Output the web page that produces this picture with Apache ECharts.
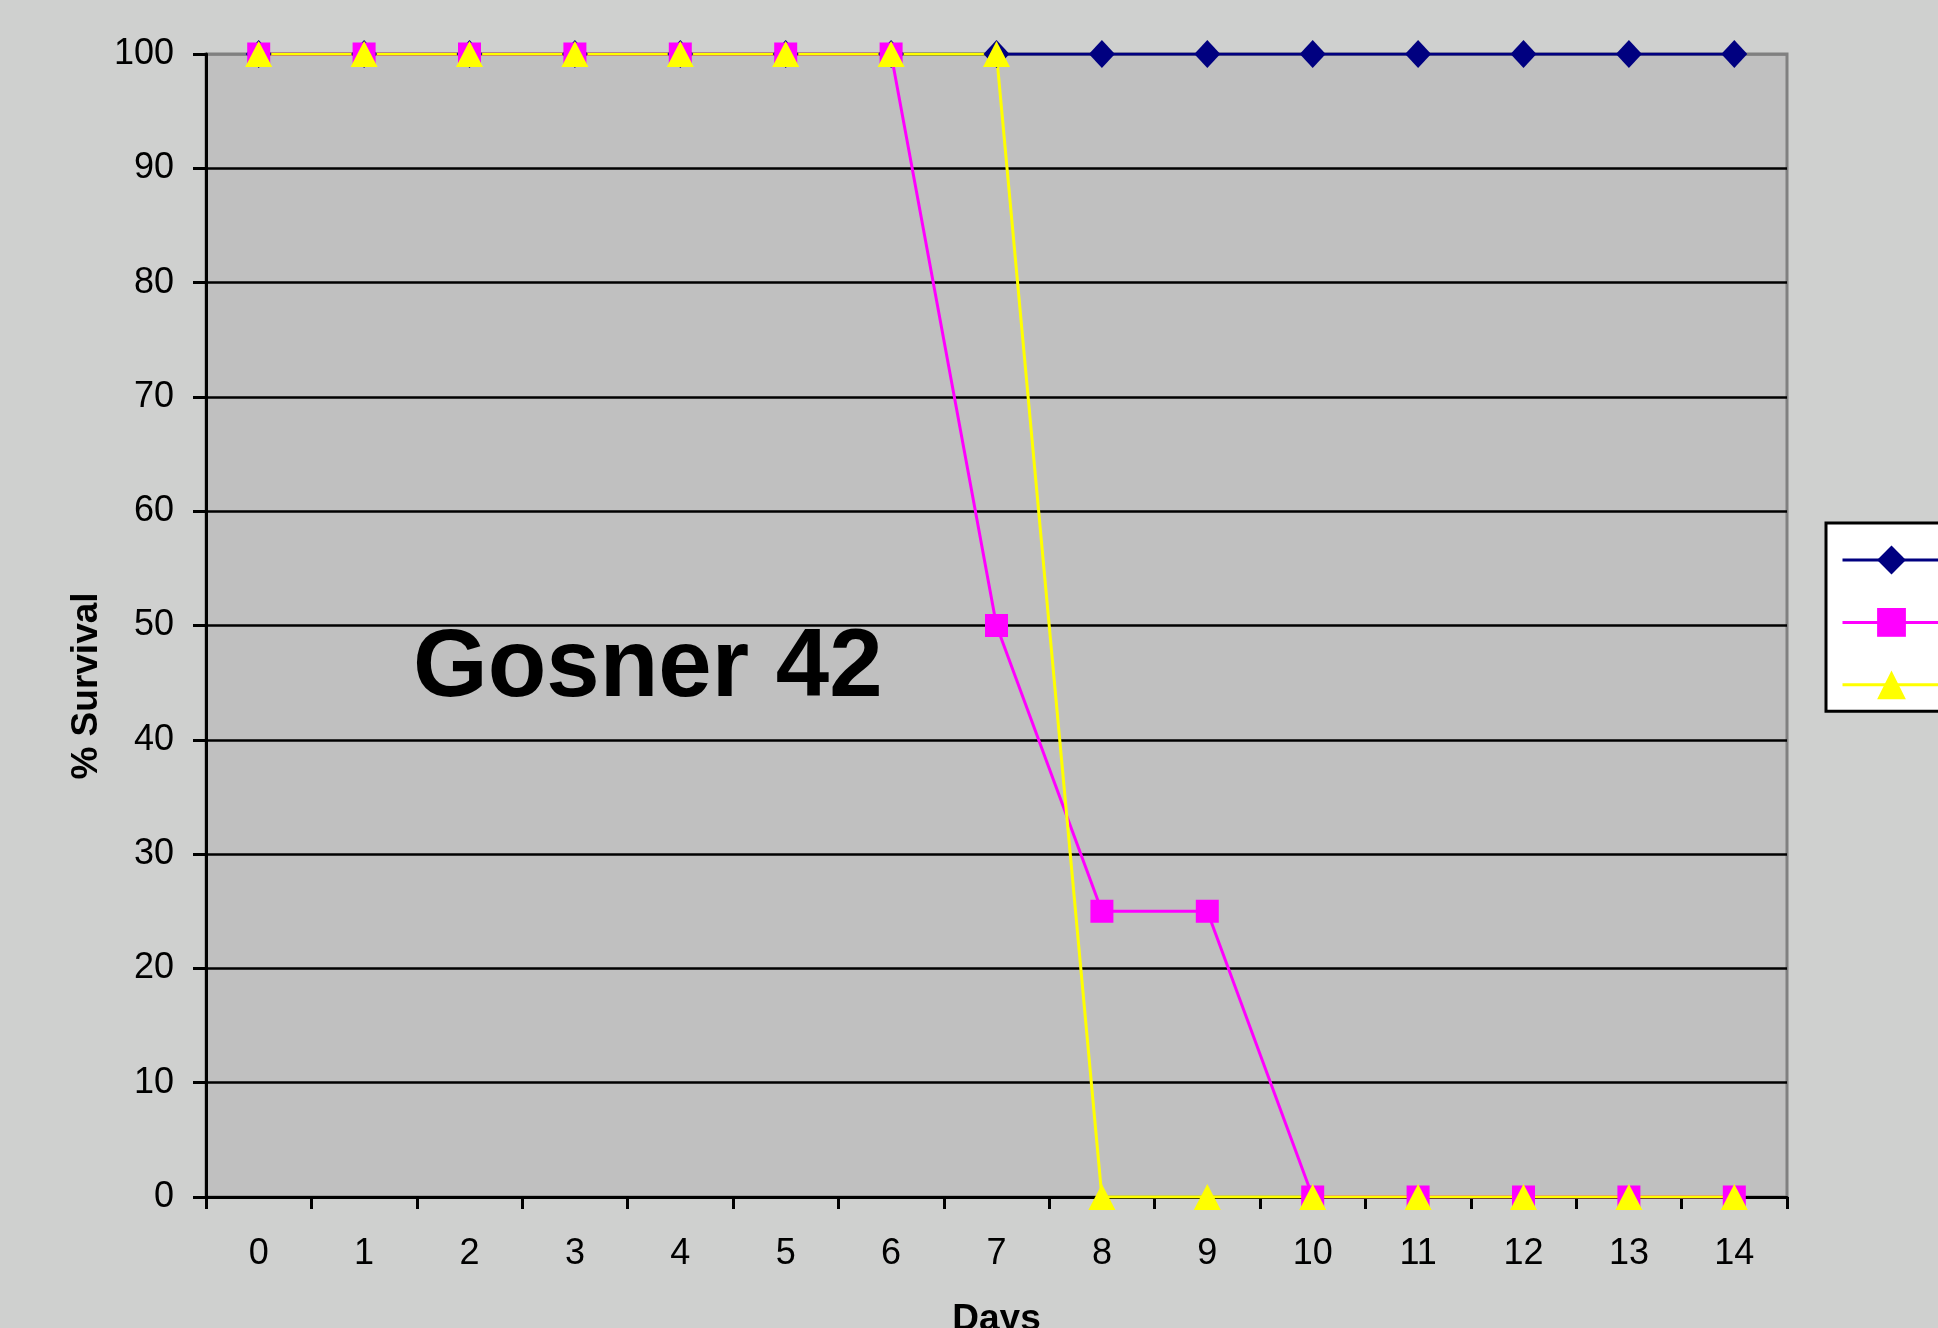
<!DOCTYPE html>
<html>
<head>
<meta charset="utf-8">
<title>Gosner 42</title>
<script src="https://cdn.jsdelivr.net/npm/echarts@6/dist/echarts.min.js"></script>
<style>
  html, body { margin: 0; padding: 0; background: #CFD0CF; }
  #chart { width: 1938px; height: 1328px; }
</style>
</head>
<body>
<div id="chart"></div>
<script>
// days on the x axis
const days = ['0', '1', '2', '3', '4', '5', '6', '7', '8', '9', '10', '11', '12', '13', '14']
// % survival per series
const seriesBlue = [100, 100, 100, 100, 100, 100, 100, 100, 100, 100, 100, 100, 100, 100, 100]
const seriesPink = [100, 100, 100, 100, 100, 100, 100, 50, 25, 25, 0, 0, 0, 0, 0]
const seriesYellow = [100, 100, 100, 100, 100, 100, 100, 100, 0, 0, 0, 0, 0, 0, 0]
// y ticks
const yMin = 0
const yMax = 100
const yStep = 10

const font = 'Liberation Sans, Arial, sans-serif'
const chart = echarts.init(document.getElementById('chart'))

// grid lines: black, except top one which sits on the grey border
const gridColors = []
for (let v = yMin; v <= yMax; v += yStep) {
  gridColors.push(v === yMax ? '#808080' : '#000000')
}

const option = {
  backgroundColor: '#CFD0CF',
  animation: false,
  grid: {
    left: 206,
    right: 151,
    top: 54,
    bottom: 131,
    outerBoundsMode: 'none', // "Days" is cut by the bottom edge, like the original
    show: true,
    backgroundColor: '#C0C0C0',
    borderColor: '#808080',
    borderWidth: 3
  },
  legend: {
    orient: 'vertical',
    left: 1826,
    top: 523,
    padding: [19, 15, 12, 15],
    itemWidth: 98,
    itemHeight: 36,
    itemGap: 30,
    backgroundColor: '#FFFFFF',
    borderColor: '#000000',
    borderWidth: 3,
    borderRadius: 0,
    lineStyle: { width: 3 },
    formatter: () => '',
    data: ['Series 1', 'Series 2', 'Series 3']
  },
  xAxis: {
    type: 'category',
    data: days,
    boundaryGap: true,
    name: 'Days',
    nameLocation: 'middle',
    nameGap: 104,
    nameTextStyle: { fontFamily: font, fontSize: 37, fontWeight: 'bold', color: '#000' },
    axisLine: { lineStyle: { color: '#000', width: 3 } },
    axisTick: { show: true, length: 12, lineStyle: { color: '#000', width: 3 } },
    axisLabel: { fontFamily: font, fontSize: 36, color: '#000', margin: 39 },
    splitLine: { show: false }
  },
  yAxis: {
    type: 'value',
    min: yMin,
    max: yMax,
    interval: yStep,
    axisLine: { show: true, lineStyle: { color: '#000', width: 3 } },
    axisTick: { show: true, length: 13, lineStyle: { color: '#000', width: 3 } },
    axisLabel: { fontFamily: font, fontSize: 36, color: '#000', margin: 32 },
    splitLine: { show: true, lineStyle: { color: gridColors, width: 2.7 } }
  },
  graphic: [
    {
      type: 'text',
      x: 413,
      y: 670,
      z: 10,
      style: {
        text: 'Gosner 42',
        font: 'bold 96px ' + font,
        fill: '#000',
        align: 'left',
        verticalAlign: 'middle'
      }
    },
    {
      type: 'text',
      x: 87,
      y: 686,
      rotation: Math.PI / 2,
      style: {
        text: '% Survival',
        font: 'bold 37px ' + font,
        fill: '#000',
        align: 'center',
        verticalAlign: 'middle'
      }
    }
  ],
  series: [
    {
      name: 'Series 1',
      type: 'line',
      data: seriesBlue,
      symbol: 'diamond',
      symbolSize: [26, 28],
      lineStyle: { color: '#000080', width: 3 },
      itemStyle: { color: '#000080' }
    },
    {
      name: 'Series 2',
      type: 'line',
      data: seriesPink,
      symbol: 'rect',
      symbolSize: 23,
      lineStyle: { color: '#FF00FF', width: 3 },
      itemStyle: { color: '#FF00FF' }
    },
    {
      name: 'Series 3',
      type: 'line',
      data: seriesYellow,
      symbol: 'triangle',
      symbolSize: [27, 26],
      lineStyle: { color: '#FFFF00', width: 3 },
      itemStyle: { color: '#FFFF00' }
    }
  ]
}

chart.setOption(option)
</script>
</body>
</html>
